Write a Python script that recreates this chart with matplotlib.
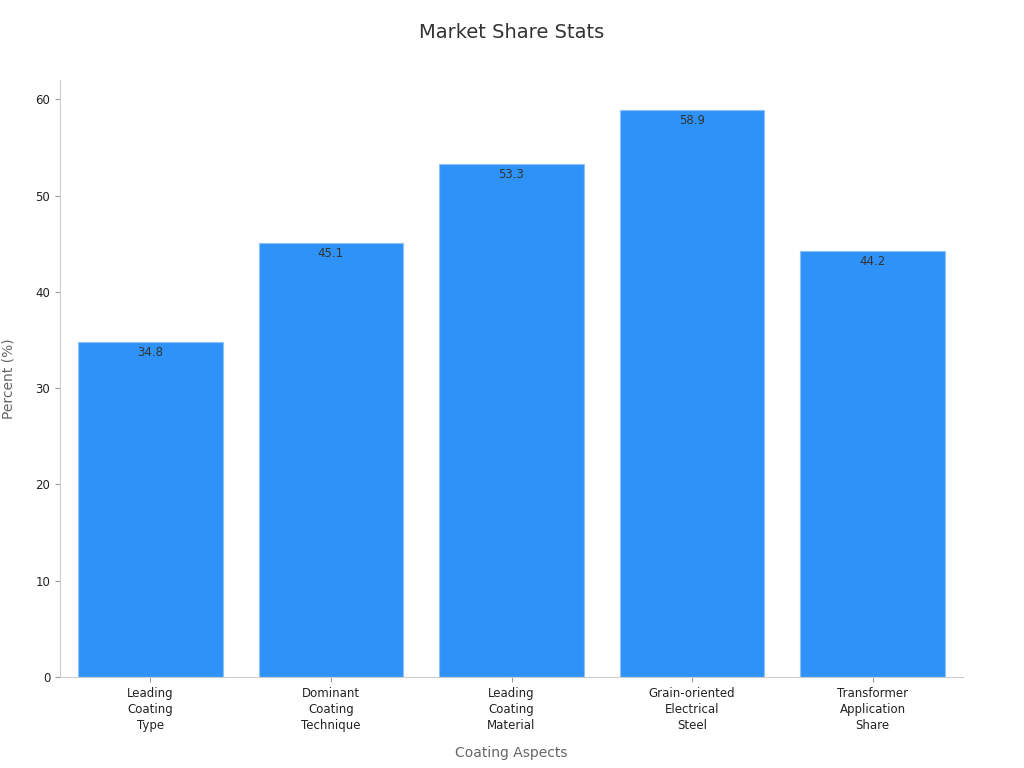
import matplotlib
matplotlib.use("Agg")
import matplotlib.pyplot as plt

categories = ["Leading\nCoating\nType", "Dominant\nCoating\nTechnique", "Leading\nCoating\nMaterial",
              "Grain-oriented\nElectrical\nSteel", "Transformer\nApplication\nShare"]
values = [34.8, 45.1, 53.3, 58.9, 44.2]

fig = plt.figure(figsize=(10.24, 7.68), dpi=100)
ax = fig.add_axes([60 / 1024, 1 - 677 / 768, 903 / 1024, 597 / 768])

bars = ax.bar(range(len(values)), values, width=0.8, color="#2f92f8", edgecolor="#8cc2f5", linewidth=0.8)
for b, v in zip(bars, values):
    ax.text(b.get_x() + b.get_width() / 2, v - 0.4, f"{v}", ha="center", va="top",
            fontsize=8.5, color="#333333")

ax.set_xlim(-0.5, 4.5)
ax.set_ylim(0, 62)
ax.set_yticks(range(0, 61, 10))
ax.set_xticks(range(len(values)))
ax.set_xticklabels(categories, fontsize=8.5, color="#222222", linespacing=1.3)
ax.tick_params(axis="y", labelsize=8.5, colors="#222222")
ax.tick_params(color="#999999")
for s in ["top", "right"]:
    ax.spines[s].set_visible(False)
for s in ["left", "bottom"]:
    ax.spines[s].set_color("#cccccc")
ax.set_xlabel("Coating Aspects", fontsize=10, color="#666666", labelpad=10)
ax.set_ylabel("Percent (%)", fontsize=10, color="#666666", labelpad=14)
fig.text(0.5, 1 - 33 / 768, "Market Share Stats", ha="center", va="center", fontsize=14, color="#333333")

fig.savefig("out.png", dpi=100, facecolor="white")
